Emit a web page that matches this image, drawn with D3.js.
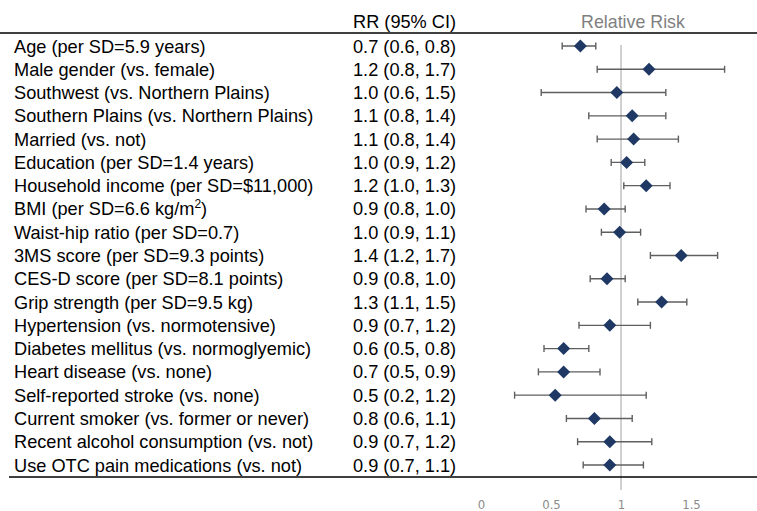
<!DOCTYPE html>
<html><head><meta charset="utf-8">
<script src="https://cdn.jsdelivr.net/npm/d3@7"></script>
<style>
html,body{margin:0;padding:0;background:#fff;}
svg{display:block;}
</style></head>
<body>
<svg id="chart" width="757" height="511"></svg>
<script>
const labels = [
  "Age (per SD=5.9 years)",
  "Male gender (vs. female)",
  "Southwest (vs. Northern Plains)",
  "Southern Plains (vs. Northern Plains)",
  "Married (vs. not)",
  "Education (per SD=1.4 years)",
  "Household income (per SD=$11,000)",
  "BMI (per SD=6.6 kg/m²)",
  "Waist-hip ratio (per SD=0.7)",
  "3MS score (per SD=9.3 points)",
  "CES-D score (per SD=8.1 points)",
  "Grip strength (per SD=9.5 kg)",
  "Hypertension (vs. normotensive)",
  "Diabetes mellitus (vs. normoglyemic)",
  "Heart disease (vs. none)",
  "Self-reported stroke (vs. none)",
  "Current smoker (vs. former or never)",
  "Recent alcohol consumption (vs. not)",
  "Use OTC pain medications (vs. not)"
];
const rrText = [
  "0.7 (0.6, 0.8)","1.2 (0.8, 1.7)","1.0 (0.6, 1.5)","1.1 (0.8, 1.4)","1.1 (0.8, 1.4)",
  "1.0 (0.9, 1.2)","1.2 (1.0, 1.3)","0.9 (0.8, 1.0)","1.0 (0.9, 1.1)","1.4 (1.2, 1.7)",
  "0.9 (0.8, 1.0)","1.3 (1.1, 1.5)","0.9 (0.7, 1.2)","0.6 (0.5, 0.8)","0.7 (0.5, 0.9)",
  "0.5 (0.2, 1.2)","0.8 (0.6, 1.1)","0.9 (0.7, 1.2)","0.9 (0.7, 1.1)"
];
const rr    = [0.71,1.20,0.97,1.08,1.09,1.04,1.18,0.88,0.99,1.43,0.90,1.29,0.92,0.59,0.59,0.53,0.81,0.92,0.92];
const lower = [0.58,0.83,0.43,0.77,0.83,0.93,1.02,0.75,0.86,1.21,0.78,1.12,0.70,0.45,0.41,0.24,0.61,0.69,0.73];
const upper = [0.82,1.74,1.32,1.32,1.41,1.17,1.35,1.03,1.14,1.69,1.03,1.47,1.21,0.77,0.85,1.18,1.08,1.22,1.16];
const xTicks = [0, 0.5, 1, 1.5];

const svg = d3.select("#chart");
const x = d3.scaleLinear().domain([0, 1]).range([481, 621]);
const y = d3.scalePoint().domain(labels).range([46, 465]);

const font = "'Liberation Sans', Arial, sans-serif";
const fs = 18.2;

// headers
svg.append("text").attr("x", 353).attr("y", 28).attr("font-family", font)
  .attr("font-size", fs).attr("fill", "#000").text("RR (95% CI)");
svg.append("text").attr("x", 633).attr("y", 28).attr("text-anchor", "middle")
  .attr("font-family", font).attr("font-size", 17.8).attr("fill", "#7f7f7f").text("Relative Risk");

// reference line
svg.append("line").attr("x1", x(1)).attr("x2", x(1)).attr("y1", 45).attr("y2", 490)
  .attr("stroke", "#d0d0d0").attr("stroke-width", 2);

// horizontal rules
svg.append("line").attr("x1", 0).attr("x2", 757).attr("y1", 33).attr("y2", 33)
  .attr("stroke", "#000").attr("stroke-width", 1.3);
svg.append("line").attr("x1", 9).attr("x2", 757).attr("y1", 477).attr("y2", 477)
  .attr("stroke", "#000").attr("stroke-width", 1.3);

// row labels
const rows = svg.append("g");
labels.forEach((l, i) => {
  const t = rows.append("text").attr("x", 14).attr("y", y(l) + 6.5)
    .attr("font-family", font).attr("font-size", fs).attr("fill", "#000");
  if (l.includes("m²")) {
    const parts = l.split("m²");
    t.append("tspan").text(parts[0] + "m");
    t.append("tspan").attr("dy", -7).attr("font-size", 12).text("2");
    t.append("tspan").attr("dy", 7).text(parts[1]);
  } else {
    t.text(l);
  }
  rows.append("text").attr("x", 353).attr("y", y(l) + 6.5)
    .attr("font-family", font).attr("font-size", fs).attr("fill", "#000").text(rrText[i]);
});

// whiskers
const g = svg.append("g");
labels.forEach((l, i) => {
  const yy = y(l);
  g.append("line").attr("x1", x(lower[i])).attr("x2", x(upper[i])).attr("y1", yy).attr("y2", yy)
    .attr("stroke", "#5f5f5f").attr("stroke-width", 1.4);
  [lower[i], upper[i]].forEach(v => {
    g.append("line").attr("x1", x(v)).attr("x2", x(v)).attr("y1", yy - 3.5).attr("y2", yy + 3.5)
      .attr("stroke", "#5f5f5f").attr("stroke-width", 1.4);
  });
});
// diamonds
labels.forEach((l, i) => {
  const cx = x(rr[i]), cy = y(l), r = 6.5;
  g.append("path").attr("d", `M${cx},${cy - r}L${cx + r},${cy}L${cx},${cy + r}L${cx - r},${cy}Z`)
    .attr("fill", "#1f3864");
});

// x axis
const axis = d3.axisBottom(x).tickValues(xTicks).tickSize(0).tickFormat(d3.format("~g"));
const ax = svg.append("g").attr("transform", "translate(0,497)").call(axis);
ax.select(".domain").remove();
ax.selectAll("text").attr("font-family", "'Liberation Sans Narrow', 'DejaVu Sans Condensed', sans-serif")
  .attr("font-size", 13).attr("fill", "#8c8c8c");
</script>
</body></html>
